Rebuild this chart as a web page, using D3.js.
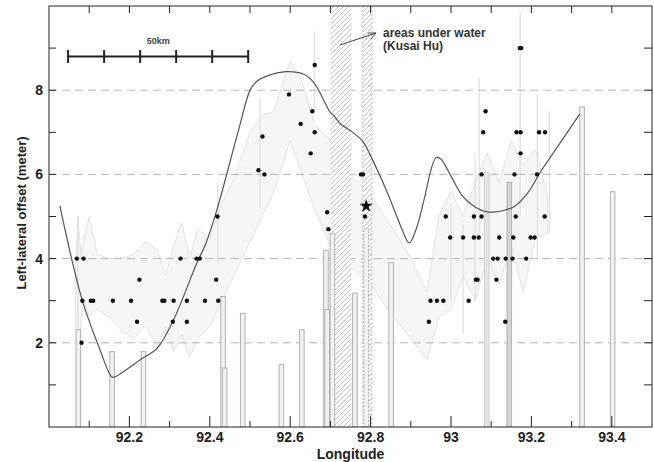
<!DOCTYPE html>
<html><head><meta charset="utf-8">
<script src="https://cdn.jsdelivr.net/npm/d3@7"></script>
<style>body{margin:0;background:#fff}svg{display:block;font-family:"Liberation Sans",Arial,sans-serif}</style>
</head><body><svg id="c" width="654" height="462"></svg>
<script>
// ---- data ----
const dotLon = [92.069,92.086,92.083,92.104,92.11,92.081,92.159,92.204,92.225,92.219,92.282,92.287,92.31,92.308,92.343,92.343,92.327,92.367,92.375,92.388,92.416,92.421,92.419,
 92.531,92.521,92.536,92.597,92.626,92.655,92.661,92.651,92.661,92.692,92.695,92.776,92.781,92.786,
 93.086,93.08,93.163,93.173,93.173,93.219,93.234,93.076,93.158,93.214,92.987,93.057,93.076,93.161,93.233,
 92.998,93.03,93.057,93.069,93.12,93.155,93.198,93.208,93.105,93.116,93.136,93.153,93.187,93.062,93.066,93.113,
 92.949,92.965,92.981,93.044,92.945,93.135,93.171,93.175];
const dotVal = [4,4,3,3,3,2,3,3,3.5,2.5,3,3,3,2.5,3,2.5,4,4,4,3,3.5,3,5,
 6.9,6.1,6.0,7.9,7.2,7.5,7.0,6.5,8.6,5.1,4.7,6,6,5,
 7.5,7,7,7,6.5,7,7,6,6,6,5,5,5,5,5,
 4.5,4.5,4.5,4.5,4.5,4.5,4.5,4.5,4,4,4,4,4,3.5,3.5,3.5,
 3,3,3,3,2.5,2.5,9,9];
const starLon = [92.789], starVal = [5.25];

const curveLon = [92.027,92.083,92.127,92.152,92.159,92.227,92.269,92.31,92.368,92.389,92.418,92.472,92.501,92.518,92.543,92.589,92.634,92.659,92.70,92.709,92.726,92.751,92.78,92.80,92.842,92.875,92.896,92.913,92.925,92.933,92.963,92.975,93.0,93.029,93.058,93.09,93.125,93.158,93.191,93.224,93.266,93.32];
const curveVal = [5.25,3.0,1.83,1.24,1.18,1.6,1.87,2.55,3.9,4.33,5.17,7.07,8.02,8.22,8.34,8.44,8.38,8.18,7.47,7.39,7.19,7.03,6.79,6.44,5.56,4.77,4.37,4.69,5.09,5.4,6.4,6.36,5.96,5.48,5.24,5.11,5.13,5.24,5.56,6.08,6.67,7.43];

const bandLon = [92.065,92.072,92.08,92.09,92.10,92.12,92.15,92.18,92.21,92.24,92.27,92.29,92.31,92.33,92.35,92.37,92.40,92.43,92.46,92.50,92.53,92.56,92.60,92.63,92.66,92.70,92.75,92.80,92.85,92.90,92.94,92.97,93.00,93.03,93.06,93.09,93.12,93.15,93.18,93.21,93.24];
const bandHi = [3.5,5.0,4.0,4.6,5.0,4.1,4.0,4.0,4.1,4.4,4.2,3.6,4.3,4.85,4.0,4.7,4.5,5.3,5.9,7.0,7.4,7.5,8.7,8.2,7.2,6.8,6.0,5.5,4.8,4.0,3.2,5.0,5.6,5.0,5.8,6.5,5.8,6.8,6.2,6.6,5.5];
const bandLo = [3.0,1.2,2.6,2.9,2.6,2.8,2.6,2.3,2.1,2.4,1.9,2.4,1.8,2.2,1.65,2.1,2.4,3.0,3.6,4.4,5.0,5.6,6.8,6.0,5.2,4.3,3.8,3.4,2.7,2.1,1.6,2.6,2.8,3.6,3.0,4.0,3.4,4.3,3.2,4.5,4.6];

const spikeLon = [92.072,92.42,92.525,92.66,93.0,93.03,93.06,93.07,93.172,93.215,93.245];
const spikeLo  = [1.2,3.9,5.2,7.5,3.0,2.2,3.0,4.5,5.0,4.0,4.6];
const spikeHi  = [5.0,5.8,7.8,9.4,5.3,4.8,6.5,8.3,9.85,7.9,7.5];

const barLon = [92.073,92.157,92.235,92.433,92.437,92.482,92.578,92.629,92.689,92.692,92.705,92.761,92.789,92.851,93.089,93.145,93.326,93.402];
const barVal = [2.31,1.79,1.79,3.1,1.4,2.7,1.48,2.31,4.2,2.79,4.59,3.18,4.71,3.9,6.05,5.81,7.6,5.59];
const barKind = ["o","o","o","o","o","o","o","o","o","o","o","o","d","o","f","g","o","o"];

const waterLo = [92.7005,92.7805], waterHi = [92.752,92.803];

const xTicks = [92.2,92.4,92.6,92.8,93,93.2,93.4];
const yTicks = [2,4,6,8];

// ---- layout ----
const L=49,R=652,T=6,B=427;
const svg = d3.select("#c");
const x = d3.scaleLinear().domain([92,93.5]).range([L,R]);
const y = d3.scaleLinear().domain([0,10]).range([B,T]);

const defs = svg.append("defs");
defs.append("clipPath").attr("id","clip").append("rect").attr("x",L).attr("y",T).attr("width",R-L).attr("height",B-T);
const pat = defs.append("pattern").attr("id","hatch").attr("patternUnits","userSpaceOnUse").attr("width",5).attr("height",5);
pat.append("rect").attr("width",5).attr("height",5).attr("fill","#fff");
pat.append("path").attr("d","M-1,1 L1,-1 M0,5 L5,0 M4,6 L6,4").attr("stroke","#b4b4b4").attr("stroke-width",0.9);

const g = svg.append("g").attr("clip-path","url(#clip)");

// band
const bandData = bandLon.map((d,i)=>({x:d,hi:bandHi[i],lo:bandLo[i]}));
g.append("path").datum(bandData)
 .attr("d",d3.area().x(d=>x(d.x)).y0(d=>y(d.lo)).y1(d=>y(d.hi)).curve(d3.curveLinear))
 .attr("fill","#f6f6f6").attr("stroke","#e2e2e2").attr("stroke-width",1);
g.selectAll("line.spk").data(spikeLon).join("line")
 .attr("x1",d=>x(d)).attr("x2",d=>x(d)).attr("y1",(d,i)=>y(spikeLo[i])).attr("y2",(d,i)=>y(spikeHi[i]))
 .attr("stroke","#dedede").attr("stroke-width",1.2);

// grid
g.selectAll("line.grid").data(yTicks).join("line")
 .attr("x1",L).attr("x2",R).attr("y1",d=>y(d)).attr("y2",d=>y(d))
 .attr("stroke","#b4b4b4").attr("stroke-width",1).attr("stroke-dasharray","8,5");

// water areas
g.selectAll("rect.water").data(waterLo).join("rect")
 .attr("x",d=>x(d)).attr("width",(d,i)=>x(waterHi[i])-x(d)).attr("y",T).attr("height",B-T)
 .attr("fill","url(#hatch)").attr("opacity",0.9);
g.append("g").selectAll("line").data([waterLo[1],waterHi[1]]).join("line")
 .attr("x1",d=>x(d)).attr("x2",d=>x(d)).attr("y1",T).attr("y2",B)
 .attr("stroke","#c4c4c4").attr("stroke-dasharray","2,2");

// bars
const bw=4.6;
g.selectAll("rect.bar").data(barLon).join("rect")
 .attr("x",d=>x(d)-bw/2).attr("width",bw)
 .attr("y",(d,i)=>y(barVal[i])).attr("height",(d,i)=>B-y(barVal[i]))
 .attr("fill",(d,i)=>barKind[i]==="g"?"#d4d4d4":barKind[i]==="f"?"#e4e4e4":"#f2f2f2")
 .attr("stroke",(d,i)=>barKind[i]==="f"?"#d2d2d2":"#b0b0b0")
 .attr("stroke-width",1)
 .attr("stroke-dasharray",(d,i)=>barKind[i]==="d"?"2,1.5":null);

// curve
g.append("path").datum(curveLon.map((d,i)=>[d,curveVal[i]]))
 .attr("d",d3.line().x(d=>x(d[0])).y(d=>y(d[1])).curve(d3.curveCatmullRom.alpha(0.5)))
 .attr("fill","none").attr("stroke","#555").attr("stroke-width",1.2);

// dots
g.selectAll("circle.dot").data(dotLon).join("circle")
 .attr("cx",d=>x(d)).attr("cy",(d,i)=>y(dotVal[i])).attr("r",2.2).attr("fill","#111");
g.selectAll("path.star").data(starLon).join("path")
 .attr("d",d3.symbol(d3.symbolStar,55)())
 .attr("transform",(d,i)=>`translate(${x(d)},${y(starVal[i])})`).attr("fill","#111");

// axes frame
const ax = svg.append("g").attr("stroke","#222").attr("stroke-width",1).attr("fill","none");
ax.append("rect").attr("x",L).attr("y",T).attr("width",R-L).attr("height",B-T);
const xMinor = d3.range(92.1,93.45,0.1);
ax.selectAll("line.tb").data(xMinor).join("line")
 .attr("x1",d=>x(d)).attr("x2",d=>x(d)).attr("y1",B).attr("y2",d=>B-(Math.abs(d*5-Math.round(d*5))<1e-6?11:6));
ax.selectAll("line.tt").data(xMinor).join("line")
 .attr("x1",d=>x(d)).attr("x2",d=>x(d)).attr("y1",T).attr("y2",T+7);
const yAll = d3.range(1,10,1);
ax.selectAll("line.tl").data(yAll).join("line")
 .attr("x1",L).attr("x2",L+7).attr("y1",d=>y(d)).attr("y2",d=>y(d));
ax.selectAll("line.tr").data(yAll).join("line")
 .attr("x1",R).attr("x2",R-8).attr("y1",d=>y(d)).attr("y2",d=>y(d));

// tick labels
svg.selectAll("text.xl").data(xTicks).join("text")
 .attr("x",d=>x(d)).attr("y",442).attr("text-anchor","middle")
 .attr("font-size",14).attr("font-weight","bold").attr("fill","#222").text(d=>d3.format("")(d));
svg.selectAll("text.yl").data(yTicks).join("text")
 .attr("x",43).attr("y",d=>y(d)+5).attr("text-anchor","end")
 .attr("font-size",14).attr("font-weight","bold").attr("fill","#222").text(d=>d);

svg.append("text").attr("x",(L+R)/2).attr("y",459).attr("text-anchor","middle")
 .attr("font-size",14).attr("font-weight","bold").attr("fill","#222").text("Longitude");
svg.append("text").attr("transform",`translate(26,213) rotate(-90)`).attr("text-anchor","middle")
 .attr("font-size",13).attr("font-weight","bold").attr("fill","#222").text("Left-lateral offset (meter)");

// scale bar (50 km)
const sb0=92.0475, sb1=92.4955, sbY=56.5;
const sb = svg.append("g").attr("stroke","#222").attr("stroke-width",2);
sb.append("line").attr("x1",x(sb0)).attr("x2",x(sb1)).attr("y1",sbY).attr("y2",sbY);
sb.selectAll("line.t").data(d3.range(6)).join("line")
 .attr("x1",d=>x(sb0+(sb1-sb0)*d/5)).attr("x2",d=>x(sb0+(sb1-sb0)*d/5)).attr("y1",sbY-6.5).attr("y2",sbY+6.5);
svg.append("text").attr("x",x((sb0+sb1)/2)).attr("y",43.5).attr("text-anchor","middle")
 .attr("font-size",9).attr("font-weight","bold").attr("fill","#444").text("50km");

// annotation
svg.append("text").attr("x",383).attr("y",36.5).attr("font-size",12).attr("font-weight","bold").attr("fill","#333").text("areas under water");
svg.append("text").attr("x",383).attr("y",50).attr("font-size",12).attr("font-weight","bold").attr("fill","#333").text("(Kusai Hu)");
const ar = svg.append("g").attr("stroke","#444").attr("stroke-width",1).attr("fill","none");
ar.append("line").attr("x1",340).attr("y1",45).attr("x2",376).attr("y2",33);
ar.append("path").attr("d","M368,33 L376,33 L371,39");
</script></body></html>
